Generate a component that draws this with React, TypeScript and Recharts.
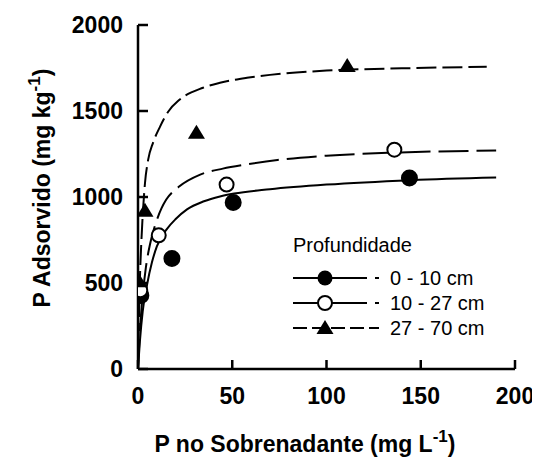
import { ComposedChart, Line, Scatter, XAxis, YAxis, Legend } from "recharts"

const FONT = "'Liberation Sans', Arial, sans-serif"

const xTicks = [0, 50, 100, 150, 200]
const yTicks = [0, 500, 1000, 1500, 2000]
const depthLabels = ["0 - 10 cm", "10 - 27 cm", "27 - 70 cm"]

// measured points
const pts0a10 = [
  { x: 1.5, y: 428 },
  { x: 18, y: 643 },
  { x: 50.5, y: 968 },
  { x: 144, y: 1110 },
]
const pts10a27 = [
  { x: 1.2, y: 458 },
  { x: 11, y: 777 },
  { x: 47, y: 1072 },
  { x: 136, y: 1275 },
]
const pts27a70 = [
  { x: 0.5, y: 510 },
  { x: 3.7, y: 920 },
  { x: 31, y: 1374 },
  { x: 111, y: 1762 },
]

// fitted curves
const fit0a10 = [
  { x: 0, y: 0 },
  { x: 1, y: 160 },
  { x: 2.5, y: 335 },
  { x: 4.8, y: 490 },
  { x: 7.4, y: 620 },
  { x: 10, y: 713 },
  { x: 15.4, y: 815 },
  { x: 20, y: 872 },
  { x: 26, y: 928 },
  { x: 35, y: 975 },
  { x: 43.5, y: 1003 },
  { x: 51, y: 1020 },
  { x: 70, y: 1045 },
  { x: 100, y: 1072 },
  { x: 145, y: 1098 },
  { x: 190, y: 1113 },
]
const fit10a27 = [
  { x: 0, y: 0 },
  { x: 1, y: 220 },
  { x: 2, y: 370 },
  { x: 4, y: 575 },
  { x: 7, y: 755 },
  { x: 9.5, y: 850 },
  { x: 12.5, y: 935 },
  { x: 15, y: 985 },
  { x: 22, y: 1062 },
  { x: 33, y: 1130 },
  { x: 45, y: 1165 },
  { x: 58, y: 1190 },
  { x: 74, y: 1215 },
  { x: 100, y: 1240 },
  { x: 136, y: 1258 },
  { x: 190, y: 1270 },
]
const fit27a70 = [
  { x: 0, y: 0 },
  { x: 0.5, y: 300 },
  { x: 1, y: 520 },
  { x: 2, y: 790 },
  { x: 3.7, y: 1080 },
  { x: 5.4, y: 1217 },
  { x: 8, y: 1316 },
  { x: 11.7, y: 1409 },
  { x: 16, y: 1496 },
  { x: 22, y: 1565 },
  { x: 34.5, y: 1635 },
  { x: 43.5, y: 1664 },
  { x: 57.8, y: 1693 },
  { x: 70, y: 1710 },
  { x: 100, y: 1735 },
  { x: 140, y: 1748 },
  { x: 185, y: 1757 },
]

const filledCircle = (p: any) => (
  <circle cx={p.cx} cy={p.cy} r={7.5} fill="#000" stroke="#000" strokeWidth={2} />
)
const openCircle = (p: any) => (
  <circle cx={p.cx} cy={p.cy} r={7} fill="#fff" stroke="#000" strokeWidth={2} />
)
const triangle = (p: any) => (
  <polygon
    points={`${p.cx},${p.cy - 8} ${p.cx - 8.5},${p.cy + 6} ${p.cx + 8.5},${p.cy + 6}`}
    fill="#000"
  />
)

function YTick({ x, y, payload }: any) {
  return (
    <g>
      <line x1={x + 15} x2={x + 25} y1={y} y2={y} stroke="#000" strokeWidth={2.5} />
      <text x={x} y={y} dy="0.36em" textAnchor="end" fontSize={23} fontWeight="bold" fontFamily={FONT} fill="#000">
        {payload.value}
      </text>
    </g>
  )
}

function XTick({ x, y, payload }: any) {
  return (
    <g>
      <line x1={x} x2={x} y1={y - 19} y2={y - 28} stroke="#000" strokeWidth={2.5} />
      <text x={x} y={y} dy="0.71em" textAnchor="middle" fontSize={23} fontWeight="bold" fontFamily={FONT} fill="#000">
        {payload.value}
      </text>
    </g>
  )
}

const xTitle = () => (
  <text x={297} y={444} textAnchor="middle" fontSize={23} fontWeight="bold" fontFamily={FONT} fill="#000">
    P no Sobrenadante (mg L
    <tspan dy={-10} fontSize={17}>-1</tspan>
    <tspan dy={10}>)</tspan>
  </text>
)

const yTitle = () => (
  <text
    x={34}
    y={180}
    dy="0.35em"
    textAnchor="middle"
    fontSize={23}
    fontWeight="bold"
    fontFamily={FONT}
    fill="#000"
    transform="rotate(-90 34 180)"
  >
    P Adsorvido (mg kg
    <tspan dy={-10} fontSize={17}>-1</tspan>
    <tspan dy={10}>)</tspan>
  </text>
)

function LegendSample({ i }: { i: number }) {
  const mark =
    i === 0 ? (
      <circle cx={32} cy={10} r={7.5} fill="#000" />
    ) : i === 1 ? (
      <circle cx={32} cy={10} r={7} fill="#fff" stroke="#000" strokeWidth={2} />
    ) : (
      <polygon points="32,2 23.5,16 40.5,16" fill="#000" />
    )
  return (
    <svg width={90} height={20}>
      {i === 2 ? (
        <line x1={0} x2={86} y1={10} y2={10} stroke="#000" strokeWidth={2} strokeDasharray="14 5" />
      ) : (
        <>
          <line x1={0} x2={74} y1={10} y2={10} stroke="#000" strokeWidth={2} />
          <line x1={82} x2={86} y1={10} y2={10} stroke="#000" strokeWidth={2} />
        </>
      )}
      {mark}
    </svg>
  )
}

const renderLegend = () => (
  <div style={{ fontFamily: FONT, fontSize: 20, color: "#000", lineHeight: "24px" }}>
    <div>Profundidade</div>
    <div style={{ marginTop: 8 }}>
      {depthLabels.map((name, i) => (
        <div key={name} style={{ display: "flex", alignItems: "center", height: 25 }}>
          <LegendSample i={i} />
          <span style={{ marginLeft: 7 }}>{name}</span>
        </div>
      ))}
    </div>
  </div>
)

export default function App() {
  return (
    <ComposedChart
      width={532}
      height={450}
      margin={{ top: 17, right: 25, bottom: 29, left: 0 }}
    >
      <XAxis
        type="number"
        dataKey="x"
        domain={[0, 200]}
        ticks={xTicks}
        height={60}
        axisLine={{ stroke: "#000", strokeWidth: 2.5 }}
        tickLine={false}
        tickSize={0}
        tickMargin={19}
        tick={<XTick />}
        label={xTitle}
        allowDataOverflow
      />
      <YAxis
        type="number"
        domain={[0, 2000]}
        ticks={yTicks}
        width={130}
        axisLine={{ stroke: "#000", strokeWidth: 2.5 }}
        tickLine={false}
        tickSize={0}
        tickMargin={15}
        tick={<YTick />}
        label={yTitle}
        allowDataOverflow
      />
      <Legend
        layout="vertical"
        align="center"
        verticalAlign="middle"
        content={renderLegend}
        wrapperStyle={{ left: 285, top: 225, width: 240 }}
      />
      <Line data={fit0a10} dataKey="y" type="monotone" stroke="#000" strokeWidth={2} dot={false} isAnimationActive={false} legendType="none" />
      <Line data={fit10a27} dataKey="y" type="monotone" stroke="#000" strokeWidth={2} strokeDasharray="30 8" dot={false} isAnimationActive={false} legendType="none" />
      <Line data={fit27a70} dataKey="y" type="monotone" stroke="#000" strokeWidth={2} strokeDasharray="20 6" dot={false} isAnimationActive={false} legendType="none" />
      <Scatter name={depthLabels[0]} data={pts0a10} dataKey="y" shape={filledCircle} isAnimationActive={false} />
      <Scatter name={depthLabels[1]} data={pts10a27} dataKey="y" shape={openCircle} isAnimationActive={false} />
      <Scatter name={depthLabels[2]} data={pts27a70} dataKey="y" shape={triangle} isAnimationActive={false} />
    </ComposedChart>
  )
}
